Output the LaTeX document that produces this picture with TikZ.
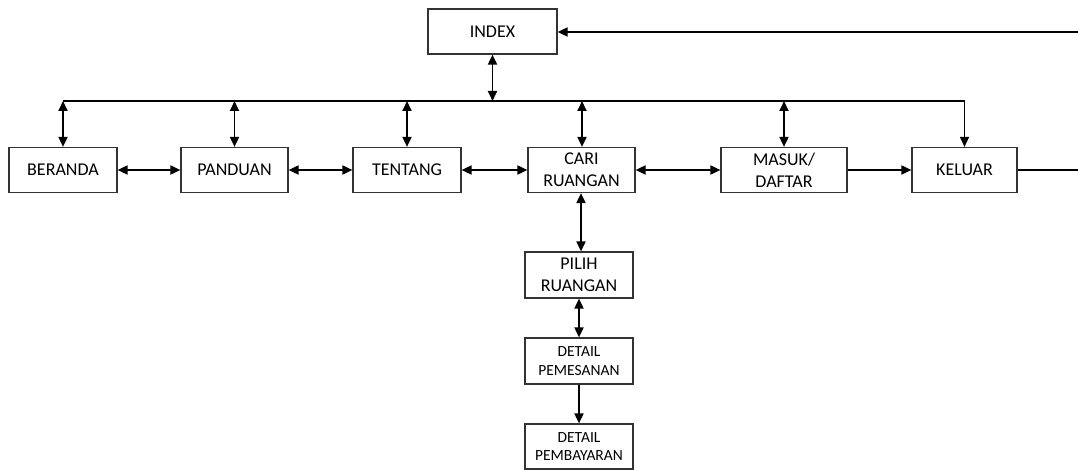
\documentclass[tikz,border=0pt]{standalone}
\usepackage{fontspec}
\setmainfont{Carlito}
\usetikzlibrary{arrows.meta}
\begin{document}
\begin{tikzpicture}[x=1pt,y=-1pt,
  menubox/.style={draw=black!80,line width=1.2pt,fill=white,align=center,
    inner sep=0pt,font=\fontsize{18}{22}\selectfont},
  smallbox/.style={menubox,font=\fontsize{15.5}{18.5}\selectfont},
  link/.style={line width=1.8pt,>={Triangle[length=10pt,width=9pt]}},
  busline/.style={line width=1.3pt,>={Triangle[length=10pt,width=9pt]}}]
\useasboundingbox (0,0) rectangle (1078,470);

% top level page
\node[menubox,minimum width=129pt,minimum height=45pt] (index) at (492.5,31.5) {INDEX};

% menu row
\node[menubox,minimum width=108pt,minimum height=45pt] (beranda) at (63,170) {BERANDA};
\node[menubox,minimum width=107pt,minimum height=45pt] (panduan) at (234.5,170) {PANDUAN};
\node[menubox,minimum width=108pt,minimum height=45pt] (tentang) at (407,170) {TENTANG};
\node[menubox,minimum width=107pt,minimum height=45pt] (cari) at (581.5,170) {CARI\\RUANGAN};
\node[menubox,minimum width=126pt,minimum height=45pt] (masuk) at (784,170) {MASUK/\\DAFTAR};
\node[menubox,minimum width=105pt,minimum height=45pt] (keluar) at (964.5,170) {KELUAR};

% booking flow
\node[menubox,minimum width=108pt,minimum height=46pt] (pilih) at (579,275) {PILIH\\RUANGAN};
\node[smallbox,minimum width=108pt,minimum height=46pt] (pesan) at (579,361) {DETAIL\\PEMESANAN};
\node[smallbox,minimum width=108pt,minimum height=45pt] (bayar) at (579,446.5) {DETAIL\\PEMBAYARAN};

% distribution bus below INDEX
\coordinate (busL) at (63,101);
\draw[busline,->] (busL) -| (keluar.north);
\draw[link,<->] (index.south) -- (index.south |- busL);
\foreach \n in {beranda,panduan,tentang,masuk}
  \draw[link,<->] (\n.north |- busL) -- (\n.north);
\draw[link,<->] (582,101) -- (cari.north -| 582,0);

% row links
\draw[link,<->] (beranda.east) -- (panduan.west);
\draw[link,<->] (panduan.east) -- (tentang.west);
\draw[link,<->] (tentang.east) -- (cari.west);
\draw[link,<->] (cari.east) -- (masuk.west);
\draw[link,->] (masuk.east) -- (keluar.west);

% return from KELUAR to INDEX
\coordinate (outR) at (1078,170);
\coordinate (inR) at (1078,32);
\draw[link] (keluar.east) -- (outR);
\draw[link,->] (inR) -- (index.east |- inR);

% column links
\draw[link,<->] (cari.south -| 581,0) -- (pilih.north -| 581,0);
\draw[link,<->] (pilih.south) -- (pesan.north);
\draw[link,->] (pesan.south) -- (bayar.north);
\end{tikzpicture}
\end{document}
